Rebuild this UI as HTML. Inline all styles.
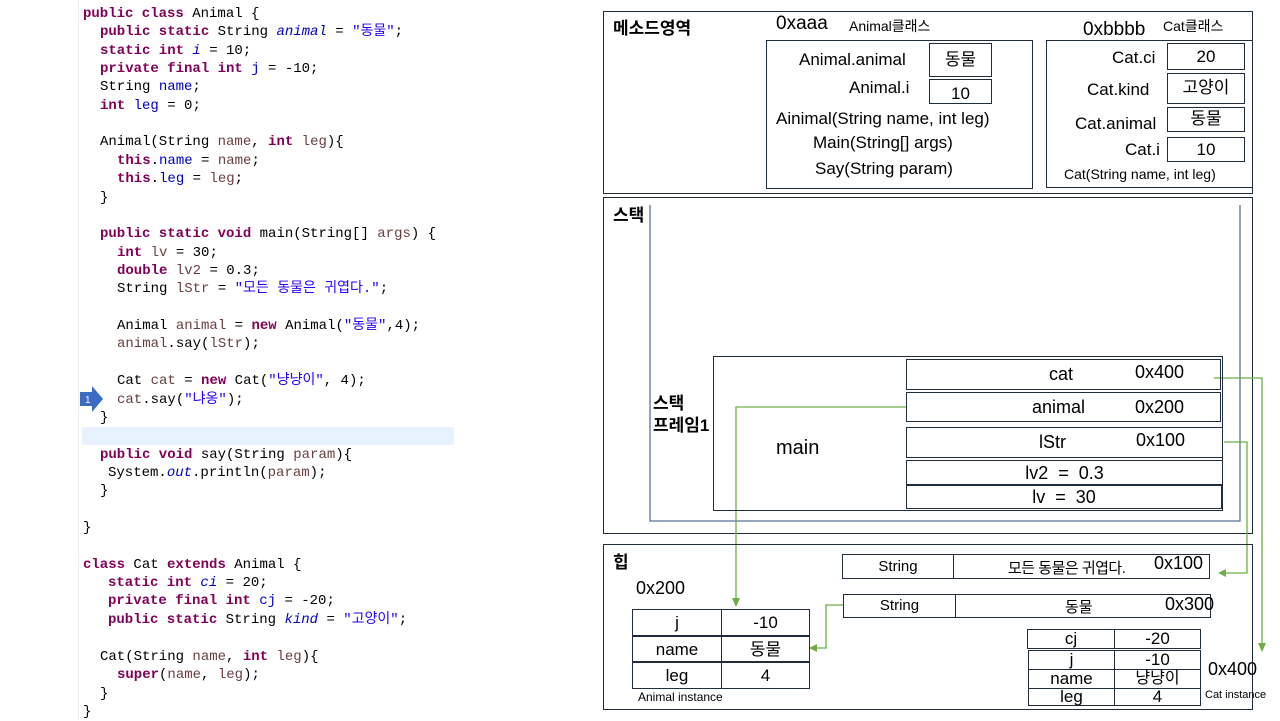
<!DOCTYPE html>
<html><head><meta charset="utf-8"><style>
body{margin:0;width:1280px;height:720px;background:#fff;position:relative;overflow:hidden;font-family:"Liberation Sans","Noto Sans CJK KR",sans-serif;}
.c{position:absolute;left:0;font-family:"Liberation Mono","Noto Sans CJK KR",monospace;font-size:14px;white-space:pre;color:#000;line-height:18px;}
.k{color:#7f0055;font-weight:bold}.f{color:#0000c0}.s{color:#2a00ff}.v{color:#6a3e3e}.i{font-style:italic}
.b{position:absolute;border:1.3px solid #1f2d3d;box-sizing:border-box;}
.t{position:absolute;white-space:nowrap;color:#000;}
.cell{position:absolute;border:1.3px solid #1f2d3d;box-sizing:border-box;text-align:center;white-space:nowrap;}
.h{font-weight:bold;font-size:17px;}
</style></head><body>
<div style="position:absolute;left:78px;top:0;width:1px;height:720px;background:#eee"></div>
<div style="position:absolute;left:82px;top:427px;width:372px;height:18px;background:#e8f2fe"></div>
<div style="position:absolute;left:0;top:5px;">
<div class="c" style="top:0;left:83px"><span class="k">public class</span> Animal {</div>
<div class="c" style="top:18.35px;left:100px"><span class="k">public static</span> String <span class="f i">animal</span> = <span class="s">"동물"</span>;</div>
<div class="c" style="top:36.7px;left:100px"><span class="k">static int</span> <span class="f i">i</span> = 10;</div>
<div class="c" style="top:55px;left:100px"><span class="k">private final int</span> <span class="f">j</span> = -10;</div>
<div class="c" style="top:73.4px;left:100px">String <span class="f">name</span>;</div>
<div class="c" style="top:91.7px;left:100px"><span class="k">int</span> <span class="f">leg</span> = 0;</div>
<div class="c" style="top:128.4px;left:100px">Animal(String <span class="v">name</span>, <span class="k">int</span> <span class="v">leg</span>){</div>
<div class="c" style="top:146.8px;left:117px"><span class="k">this</span>.<span class="f">name</span> = <span class="v">name</span>;</div>
<div class="c" style="top:165px;left:117px"><span class="k">this</span>.<span class="f">leg</span> = <span class="v">leg</span>;</div>
<div class="c" style="top:183.5px;left:100px">}</div>
<div class="c" style="top:220px;left:100px"><span class="k">public static void</span> main(String[] <span class="v">args</span>) {</div>
<div class="c" style="top:238.5px;left:117px"><span class="k">int</span> <span class="v">lv</span> = 30;</div>
<div class="c" style="top:257px;left:117px"><span class="k">double</span> <span class="v">lv2</span> = 0.3;</div>
<div class="c" style="top:275px;left:117px">String <span class="v">lStr</span> = <span class="s">"모든 동물은 귀엽다."</span>;</div>
<div class="c" style="top:312px;left:117px">Animal <span class="v">animal</span> = <span class="k">new</span> Animal(<span class="s">"동물"</span>,4);</div>
<div class="c" style="top:330px;left:117px"><span class="v">animal</span>.say(<span class="v">lStr</span>);</div>
<div class="c" style="top:367px;left:117px">Cat <span class="v">cat</span> = <span class="k">new</span> Cat(<span class="s">"냥냥이"</span>, 4);</div>
<div class="c" style="top:385.5px;left:117px"><span class="v">cat</span>.say(<span class="s">"냐옹"</span>);</div>
<div class="c" style="top:404px;left:100px">}</div>
<div class="c" style="top:440.5px;left:100px"><span class="k">public void</span> say(String <span class="v">param</span>){</div>
<div class="c" style="top:459px;left:108px">System.<span class="f i">out</span>.println(<span class="v">param</span>);</div>
<div class="c" style="top:477px;left:100px">}</div>
<div class="c" style="top:514px;left:83px">}</div>
<div class="c" style="top:551px;left:83px"><span class="k">class</span> Cat <span class="k">extends</span> Animal {</div>
<div class="c" style="top:569px;left:108px"><span class="k">static int</span> <span class="f i">ci</span> = 20;</div>
<div class="c" style="top:587px;left:108px"><span class="k">private final int</span> <span class="f">cj</span> = -20;</div>
<div class="c" style="top:606px;left:108px"><span class="k">public static</span> String <span class="f i">kind</span> = <span class="s">"고양이"</span>;</div>
<div class="c" style="top:643px;left:100px">Cat(String <span class="v">name</span>, <span class="k">int</span> <span class="v">leg</span>){</div>
<div class="c" style="top:661px;left:117px"><span class="k">super</span>(<span class="v">name</span>, <span class="v">leg</span>);</div>
<div class="c" style="top:680px;left:100px">}</div>
<div class="c" style="top:698px;left:83px">}</div>
</div>
<svg style="position:absolute;left:80px;top:386px" width="24" height="27"><polygon points="0,6 12,6 12,0 23,13 12,26 12,20 0,20" fill="#3a6cc4"/><text x="5" y="17" font-size="10" fill="#fff" font-family="Liberation Sans">1</text></svg>

<!-- Method area -->
<div class="b" style="left:603px;top:11px;width:650px;height:183px"></div>
<div class="t h" style="left:613px;top:14px">메소드영역</div>
<div class="t" style="left:776px;top:13px;font-size:19px">0xaaa</div>
<div class="t" style="left:849px;top:16px;font-size:14px">Animal클래스</div>
<div class="t" style="left:1083px;top:19px;font-size:19px">0xbbbb</div>
<div class="t" style="left:1163px;top:16px;font-size:14px">Cat클래스</div>
<div class="b" style="left:766px;top:40px;width:267px;height:149px"></div>
<div class="t" style="left:799px;top:50px;font-size:17px">Animal.animal</div>
<div class="cell" style="left:929px;top:43px;width:63px;height:34px;font-size:17px;line-height:32px">동물</div>
<div class="t" style="left:849px;top:78px;font-size:17px">Animal.i</div>
<div class="cell" style="left:929px;top:79px;width:63px;height:25px;font-size:17px;line-height:27px">10</div>
<div class="t" style="left:776px;top:109px;font-size:17px">Ainimal(String name, int leg)</div>
<div class="t" style="left:813px;top:133px;font-size:17px">Main(String[] args)</div>
<div class="t" style="left:815px;top:159px;font-size:17px">Say(String param)</div>
<div class="b" style="left:1046px;top:40px;width:207px;height:148px"></div>
<div class="t" style="left:1112px;top:48px;font-size:17px">Cat.ci</div>
<div class="cell" style="left:1167px;top:43px;width:78px;height:27px;font-size:17px;line-height:25px">20</div>
<div class="t" style="left:1087px;top:80px;font-size:17px">Cat.kind</div>
<div class="cell" style="left:1167px;top:73px;width:78px;height:31px;font-size:17px;line-height:28px">고양이</div>
<div class="t" style="left:1075px;top:114px;font-size:17px">Cat.animal</div>
<div class="cell" style="left:1167px;top:107px;width:78px;height:25px;font-size:17px;line-height:22px">동물</div>
<div class="t" style="left:1125px;top:140px;font-size:17px">Cat.i</div>
<div class="cell" style="left:1167px;top:137px;width:78px;height:25px;font-size:17px;line-height:24px">10</div>
<div class="t" style="left:1064px;top:166px;font-size:14px">Cat(String name, int leg)</div>

<!-- Stack -->
<div class="b" style="left:603px;top:197px;width:650px;height:337px"></div>
<div class="t h" style="left:613px;top:201px">스택</div>
<svg style="position:absolute;left:0;top:0" width="1280" height="720">
<polyline points="650,205 650,521 1240,521 1240,205" fill="none" stroke="#5a6f96" stroke-width="1.3"/>
<g stroke="#70ad47" stroke-width="1.3" fill="none">
<polyline points="1214,378 1262,378 1262,645"/>
<polyline points="906,407 736,407 736,601"/>
<polyline points="1224,442 1247,442 1247,573 1226,573"/>
<polyline points="843,605 826,605 826,648 815,648"/>
</g>
<g fill="#70ad47">
<polygon points="1258,643 1266,643 1262,652"/>
<polygon points="732,598 740,598 736,607"/>
<polygon points="1226,569 1226,577 1218,573"/>
<polygon points="817,644 817,652 809,648"/>
</g>
</svg>
<div class="b" style="left:713px;top:356px;width:510px;height:155px"></div>
<div class="t h" style="left:653px;top:393px;line-height:22px">스택<br>프레임1</div>
<div class="t" style="left:776px;top:437px;font-size:20px">main</div>
<div class="cell" style="left:906px;top:359px;width:315px;height:31px"></div>
<div class="t" style="left:1049px;top:364px;font-size:18px">cat</div>
<div class="t" style="left:1135px;top:362px;font-size:18px">0x400</div>
<div class="cell" style="left:906px;top:392px;width:315px;height:30px"></div>
<div class="t" style="left:1032px;top:397px;font-size:18px">animal</div>
<div class="t" style="left:1135px;top:397px;font-size:18px">0x200</div>
<div class="cell" style="left:906px;top:427px;width:317px;height:31px"></div>
<div class="t" style="left:1039px;top:432px;font-size:18px">lStr</div>
<div class="t" style="left:1136px;top:430px;font-size:18px">0x100</div>
<div class="cell" style="left:906px;top:460px;width:317px;height:25px;font-size:18px;line-height:24px">lv2 &nbsp;= &nbsp;0.3</div>
<div class="cell" style="left:906px;top:485px;width:316px;height:24px;font-size:18px;line-height:22px">lv &nbsp;= &nbsp;30</div>

<!-- Heap -->
<div class="b" style="left:603px;top:544px;width:650px;height:166px"></div>
<div class="t h" style="left:613px;top:548px">힙</div>
<div class="t" style="left:636px;top:578px;font-size:18px">0x200</div>
<div class="cell" style="left:842px;top:554px;width:112px;height:25px;font-size:15px;line-height:24px">String</div>
<div class="cell" style="left:953px;top:554px;width:257px;height:25px"></div>
<div class="t" style="left:1008px;top:557px;font-size:15px;letter-spacing:-0.5px">모든 동물은 귀엽다.</div>
<div class="t" style="left:1154px;top:553px;font-size:18px">0x100</div>
<div class="cell" style="left:843px;top:594px;width:113px;height:24px;font-size:15px;line-height:22px">String</div>
<div class="cell" style="left:955px;top:594px;width:256px;height:24px"></div>
<div class="t" style="left:1065px;top:596px;font-size:15px">동물</div>
<div class="t" style="left:1165px;top:594px;font-size:18px">0x300</div>
<div class="cell" style="left:632px;top:609px;width:90px;height:27px;font-size:17px;line-height:26px">j</div>
<div class="cell" style="left:721px;top:609px;width:89px;height:27px;font-size:17px;line-height:26px">-10</div>
<div class="cell" style="left:632px;top:636px;width:90px;height:26px;font-size:17px;line-height:25px">name</div>
<div class="cell" style="left:721px;top:636px;width:89px;height:26px;font-size:17px;line-height:25px">동물</div>
<div class="cell" style="left:632px;top:662px;width:90px;height:27px;font-size:17px;line-height:26px">leg</div>
<div class="cell" style="left:721px;top:662px;width:89px;height:27px;font-size:17px;line-height:26px">4</div>
<div class="t" style="left:638px;top:690px;font-size:12px">Animal instance</div>
<div class="cell" style="left:1027px;top:629px;width:88px;height:20px;font-size:17px;line-height:18px">cj</div>
<div class="cell" style="left:1114px;top:629px;width:87px;height:20px;font-size:17px;line-height:18px">-20</div>
<div class="cell" style="left:1028px;top:650px;width:87px;height:20px;font-size:17px;line-height:18px">j</div>
<div class="cell" style="left:1114px;top:650px;width:87px;height:20px;font-size:17px;line-height:18px">-10</div>
<div class="cell" style="left:1028px;top:669px;width:87px;height:20px;font-size:17px;line-height:18px">name</div>
<div class="cell" style="left:1114px;top:669px;width:87px;height:20px;font-size:16px;line-height:18px">냥냥이</div>
<div class="cell" style="left:1028px;top:688px;width:87px;height:18px;font-size:17px;line-height:16px">leg</div>
<div class="cell" style="left:1114px;top:688px;width:87px;height:18px;font-size:17px;line-height:16px">4</div>
<div class="t" style="left:1208px;top:659px;font-size:18px">0x400</div>
<div class="t" style="left:1205px;top:689px;font-size:11px">Cat instance</div>
</body></html>
